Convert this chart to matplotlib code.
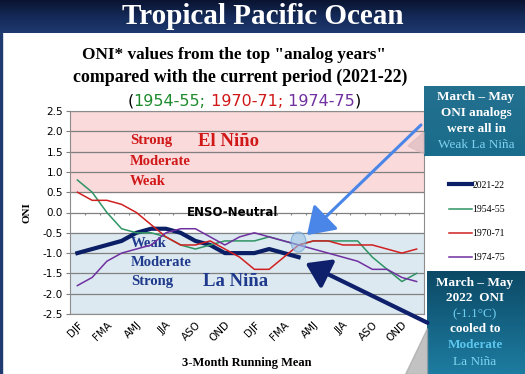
import numpy as np
import matplotlib
import matplotlib.pyplot as plt
from matplotlib.colors import LinearSegmentedColormap
from matplotlib.patches import Rectangle, Ellipse, FancyArrowPatch, Polygon

plt.rcParams['axes.unicode_minus'] = False

W, H = 525, 374

# 3-month seasons, two years
seasons = ["DJF", "JFM", "FMA", "MAM", "AMJ", "MJJ", "JJA", "JAS", "ASO", "SON", "OND", "NDJ"] * 2
oni_2021_22 = [-1.0, -0.9, -0.8, -0.7, -0.5, -0.4, -0.4, -0.5, -0.7, -0.8, -1.0, -1.0,
               -1.0, -0.9, -1.0, -1.1]
oni_1954_55 = [0.8, 0.5, 0.0, -0.4, -0.5, -0.5, -0.6, -0.8, -0.9, -0.8, -0.7, -0.7,
               -0.7, -0.6, -0.7, -0.8, -0.7, -0.7, -0.7, -0.7, -1.1, -1.4, -1.7, -1.5]
oni_1970_71 = [0.5, 0.3, 0.3, 0.2, 0.0, -0.3, -0.6, -0.8, -0.8, -0.7, -0.9, -1.1,
               -1.4, -1.4, -1.1, -0.8, -0.7, -0.7, -0.8, -0.8, -0.8, -0.9, -1.0, -0.9]
oni_1974_75 = [-1.8, -1.6, -1.2, -1.0, -0.9, -0.8, -0.5, -0.4, -0.4, -0.6, -0.8, -0.6,
               -0.5, -0.6, -0.7, -0.8, -0.9, -1.0, -1.1, -1.2, -1.4, -1.4, -1.6, -1.7]

series = [("2021-22", oni_2021_22, "#0B1F66", 3.0),
          ("1954-55", oni_1954_55, "#2F9463", 1.1),
          ("1970-71", oni_1970_71, "#D02020", 1.1),
          ("1974-75", oni_1974_75, "#7030A0", 1.1)]

GREEN, RED, PURPLE = "#1E8B2E", "#D01818", "#7030A0"
NAVY_TXT = "#1F3A8C"
SERIF = "Liberation Serif"


def fx(px):
    return px / W


def fy(py):
    return 1 - py / H


fig = plt.figure(figsize=(W / 100, H / 100), dpi=100)
fig.patch.set_facecolor("white")

# header band
hax = fig.add_axes([0, fy(33), 1, 33 / H])
hcmap = LinearSegmentedColormap.from_list("hdr", ["#0A1431", "#142A58", "#1E3A6E"])
hax.imshow(np.linspace(0, 1, 50).reshape(-1, 1), aspect="auto", cmap=hcmap,
           extent=[0, 1, 0, 1])
hax.set_axis_off()
fig.text(fx(263), fy(17), "Tropical Pacific Ocean", color="white", family=SERIF,
         weight="bold", fontsize=21, ha="center", va="center")
fig.add_artist(Rectangle((0, 0), fx(2), fy(33), transform=fig.transFigure,
                         color="#1F3A6E", zorder=5))

# titles
fig.text(fx(234), fy(55), 'ONI* values from the top "analog years"', family=SERIF,
         weight="bold", fontsize=12.4, ha="center", va="center")
fig.text(fx(240), fy(77), "compared with the current period (2021-22)", family=SERIF,
         weight="bold", fontsize=12.9, ha="center", va="center")

parts = [("(", "black"), ("1954-55;", GREEN), (" 1970-71;", RED),
         (" 1974-75", PURPLE), (")", "black")]
renderer = fig.canvas.get_renderer()
texts = [fig.text(0, fy(101), s, color=c, fontsize=11.5, va="center") for s, c in parts]
widths = [t.get_window_extent(renderer).width for t in texts]
x0 = 244 - sum(widths) / 2
for t, w in zip(texts, widths):
    t.set_x(fx(x0))
    x0 += w

# main axes
ax = fig.add_axes([fx(70), fy(314), 354 / W, 203 / H])
x = np.arange(len(seasons))
ax.set_xlim(-0.5, len(seasons) - 0.5)
ax.set_ylim(-2.5, 2.5)
ax.axhspan(0.5, 2.5, color="#FADADB", zorder=0)
ax.axhspan(-2.5, -0.5, color="#DCE9F1", zorder=0)
ax.set_yticks(np.arange(-2.5, 2.51, 0.5))
ax.set_yticklabels([f"{v:.1f}" for v in np.arange(-2.5, 2.51, 0.5)])
ax.yaxis.grid(True, color="#808080", lw=0.9)
ax.set_axisbelow(True)
ax.vlines(np.arange(-0.5, len(seasons), 1), -0.07, 0, color="#808080", lw=0.8, zorder=1)
ax.set_xticks(x[::2])
ax.set_xticklabels(seasons[::2], rotation=45, ha="right", rotation_mode="anchor",
                   fontsize=7.5)
ax.tick_params(axis="x", length=0, pad=4)
ax.tick_params(axis="y", length=3, color="#808080", labelsize=7.5, pad=2)
for sp in ax.spines.values():
    sp.set_color("#8C8C8C")
ax.set_ylabel("ONI", family=SERIF, weight="bold", fontsize=8, labelpad=8)
ax.set_xlabel("3-Month Running Mean", family=SERIF, weight="bold", fontsize=9,
              va="center")
ax.xaxis.set_label_coords(0.5, (314 - 363) / 203)

for name, vals, col, lw in series:
    ax.plot(np.arange(len(vals)), vals, color=col, lw=lw, label=name, zorder=3)

tr = ax.get_yaxis_transform()
for label, yv in [("Strong", 1.77), ("Moderate", 1.25), ("Weak", 0.76)]:
    ax.text(0.17, yv, label, transform=tr, color="#D01818", family=SERIF,
            weight="bold", fontsize=10.5, va="center", zorder=2)
ax.text(0.362, 1.74, "El Niño", transform=tr, color="#D01818", family=SERIF,
        weight="bold", fontsize=13.5, va="center", zorder=2)
for label, yv in [("Weak", -0.77), ("Moderate", -1.24), ("Strong", -1.71)]:
    ax.text(0.172, yv, label, transform=tr, color=NAVY_TXT, family=SERIF,
            weight="bold", fontsize=10.5, va="center", zorder=2)
ax.text(0.376, -1.71, "La Niña", transform=tr, color=NAVY_TXT, family=SERIF,
        weight="bold", fontsize=13.5, va="center", zorder=2)
ax.text(0.33, 0.0, "ENSO-Neutral", transform=tr, color="black", weight="bold",
        fontsize=8.5, va="center", zorder=2)

# legend
fig.legend(*ax.get_legend_handles_labels(), loc="upper left",
           bbox_to_anchor=(fx(444), fy(176)), frameon=False,
           prop={"family": SERIF, "size": 7}, handlelength=2.4,
           handletextpad=0.0, labelspacing=1.55, borderpad=0)

# callout boxes
bcmap1 = LinearSegmentedColormap.from_list("b1", ["#24708F", "#1A6C8C"])
bax1 = fig.add_axes([fx(424), fy(156), (W - 424) / W, (156 - 86) / H])
bax1.imshow(np.linspace(0, 1, 50).reshape(-1, 1), aspect="auto", cmap=bcmap1,
            extent=[0, 1, 0, 1])
bax1.set_axis_off()
for txt, yy, col, wt in [("March – May", 97, "white", "bold"),
                         ("ONI analogs", 113, "white", "bold"),
                         ("were all in", 129, "white", "bold"),
                         ("Weak La Niña", 145, "#7FD3F0", "normal")]:
    fig.text(fx(476), fy(yy), txt, color=col, family=SERIF, weight=wt,
             fontsize=9.5, ha="center", va="center")

bcmap2 = LinearSegmentedColormap.from_list("b2", ["#0C4966", "#1D7CA0"])
bax2 = fig.add_axes([fx(427), 0, (W - 427) / W, (374 - 271) / H])
bax2.imshow(np.linspace(0, 1, 50).reshape(-1, 1), aspect="auto", cmap=bcmap2,
            extent=[0, 1, 0, 1])
bax2.set_axis_off()
for txt, yy, col, wt in [("March – May", 283, "white", "bold"),
                         ("2022  ONI", 298, "white", "bold"),
                         ("(-1.1°C)", 314, "#6ECDF0", "normal"),
                         ("cooled to", 329, "white", "bold"),
                         ("Moderate", 345, "#5CC6EE", "bold"),
                         ("La Niña", 362, "#7FD3F0", "normal")]:
    fig.text(fx(475), fy(yy), txt, color=col, family=SERIF, weight=wt,
             fontsize=9.5, ha="center", va="center")

# soft shadows next to the boxes
fig.add_artist(Polygon([(fx(427), fy(328)), (fx(427), fy(374)), (fx(405), fy(374))],
                       closed=True, transform=fig.transFigure, color="#A8A8A8",
                       alpha=0.7, zorder=4))
fig.add_artist(Polygon([(fx(424), fy(132)), (fx(424), fy(154)), (fx(408), fy(146))],
                       closed=True, transform=fig.transFigure, color="#D9B8BC",
                       alpha=0.6, zorder=4))

# highlight and arrows
fig.add_artist(Ellipse((fx(298.5), fy(242)), 15 / W, 20 / H, transform=fig.transFigure,
                       facecolor="#9DC3E6", edgecolor="#5B9BD5", alpha=0.6,
                       lw=0.8, zorder=6))
fig.add_artist(FancyArrowPatch((fx(423), fy(123)), (fx(305), fy(237)),
                               transform=fig.transFigure, color="#4A86E8", lw=2.2,
                               arrowstyle="-|>,head_length=0.9,head_width=0.6",
                               mutation_scale=18, zorder=7))
fig.add_artist(FancyArrowPatch((fx(430), fy(324)), (fx(303), fy(262)),
                               transform=fig.transFigure, color="#0E1F6B", lw=3,
                               arrowstyle="-|>,head_length=0.9,head_width=0.6",
                               mutation_scale=16, zorder=7))

fig.savefig("out.png", dpi=100)
